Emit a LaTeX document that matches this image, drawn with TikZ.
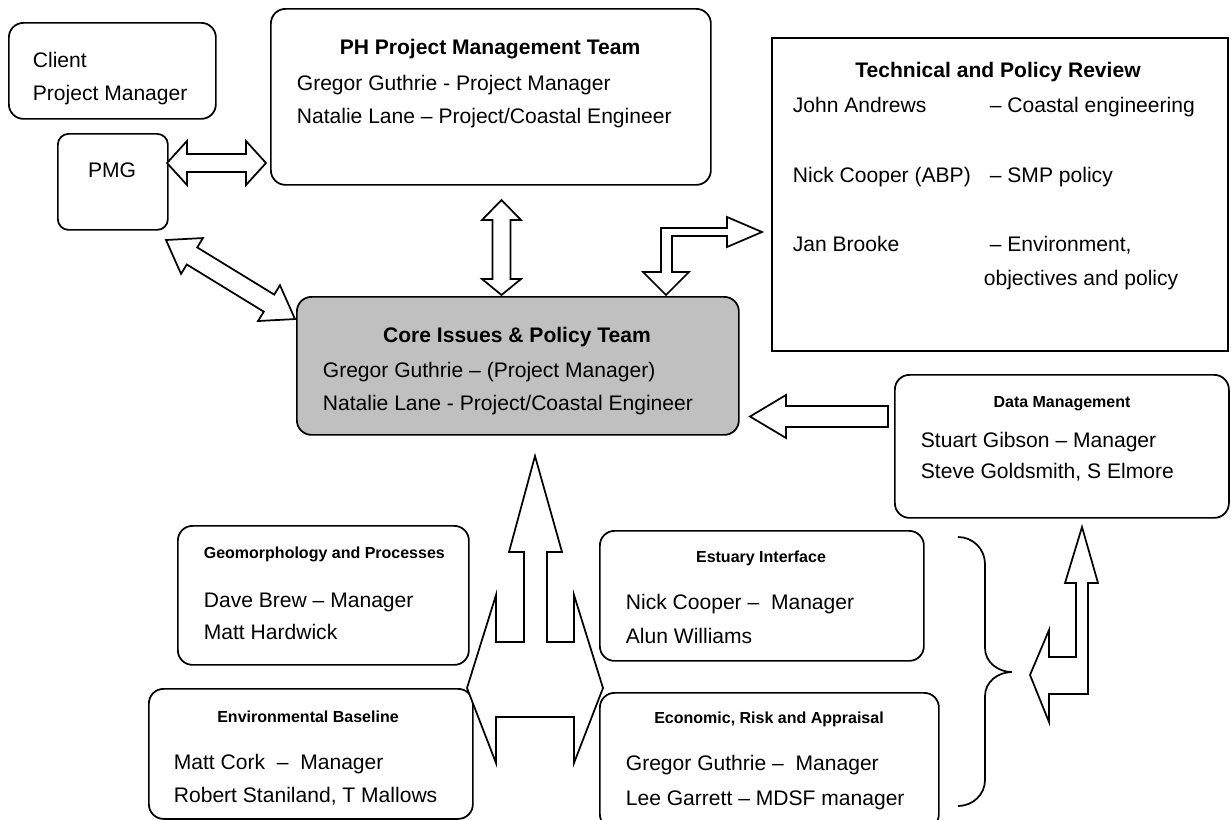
\documentclass[tikz,border=0pt]{standalone}
\usepackage{fontspec}
\setmainfont{Liberation Sans}
\newcommand\mybox[6]{\node[boxshape,#6,minimum width={(#3-#1)*0.75pt},minimum height={(#4-#2)*0.75pt}] (#5) at (#1,#2) {};}
\begin{document}
\begin{tikzpicture}[x=0.75pt,y=-0.75pt,line width=1.3pt,
  boxshape/.style={draw,inner sep=0pt,anchor=north west},
  rbox/.style={rounded corners=11pt},
  sbox/.style={rounded corners=8pt},
  txt/.style={anchor=base west,inner sep=0pt,font=\fontsize{15.8}{19}\selectfont},
  ttl/.style={anchor=base,inner sep=0pt,font=\fontsize{15.8}{19}\selectfont\bfseries},
  sttl/.style={anchor=base,inner sep=0pt,font=\fontsize{12}{14}\selectfont\bfseries},
  blockarrow/.style={draw,fill=white,line join=miter}]
\useasboundingbox (0,0) rectangle (1231,819);

% boxes
\mybox{8}{22}{215}{118}{client}{rbox}
\mybox{57}{133}{167}{229}{pmg}{sbox}
\mybox{270}{8}{710}{184}{ph}{rbox}
\mybox{771}{37}{1227}{350}{tech}{}
\mybox{296}{296}{738}{434}{core}{rbox,fill={rgb,255:red,192;green,192;blue,192}}
\mybox{894}{374}{1228}{517}{data}{rbox}
\mybox{177}{525}{468}{664}{geo}{rbox}
\mybox{599}{530}{923}{660}{est}{rbox}
\mybox{148}{688}{472}{818}{env}{rbox}
\begin{scope}
\clip (0,0) rectangle (1231,819);
\mybox{599}{692}{938}{828}{eco}{rbox}
\end{scope}

% texts
\node[txt] (clientA) at (32,67) {Client};
\node[txt] (clientB) at (32,100) {Project Manager};
\node[txt,anchor=base] (pmgT) at (112,177) {PMG};

\node[ttl] (phT) at (490,54) {PH Project Management Team};
\node[txt] (phA) at (296,90) {Gregor Guthrie - Project Manager};
\node[txt] (phB) at (296,123) {Natalie Lane – Project/Coastal Engineer};

\node[ttl] (techT) at (998,77) {Technical and Policy Review};
\node[txt] (techA) at (792,112) {John Andrews};
\node[txt] (techA2) at (989,112) {– Coastal engineering};
\node[txt] (techB) at (792,182) {Nick Cooper (ABP)};
\node[txt] (techB2) at (989,182) {– SMP policy};
\node[txt] (techC) at (792,251) {Jan Brooke};
\node[txt] (techC2) at (989,251) {– Environment,};
\node[txt] (techC3) at (983,285) {objectives and policy};

\node[ttl] (coreT) at (517,342) {Core Issues \& Policy Team};
\node[txt] (coreA) at (322,377) {Gregor Guthrie – (Project Manager)};
\node[txt] (coreB) at (322,410) {Natalie Lane - Project/Coastal Engineer};

\node[sttl] (dataT) at (1062,407) {Data Management};
\node[txt] (dataA) at (920,447) {Stuart Gibson – Manager};
\node[txt] (dataB) at (920,478) {Steve Goldsmith, S Elmore};

\node[sttl,anchor=base west] (geoT) at (203,558) {Geomorphology and Processes};
\node[txt] (geoA) at (203,607) {Dave Brew – Manager};
\node[txt] (geoB) at (203,639) {Matt Hardwick};

\node[sttl] (estT) at (761,562) {Estuary Interface};
\node[txt] (estA) at (625,609) {Nick Cooper –\ \ Manager};
\node[txt] (estB) at (625,643) {Alun Williams};

\node[sttl] (envT) at (308,722) {Environmental Baseline};
\node[txt] (envA) at (173,769) {Matt Cork\ \ –\ \ Manager};
\node[txt] (envB) at (173,802) {Robert Staniland, T Mallows};

\node[sttl] (ecoT) at (769,723) {Economic, Risk and Appraisal};
\node[txt] (ecoA) at (625,770) {Gregor Guthrie –\ \ Manager};
\node[txt] (ecoB) at (625,805) {Lee Garrett – MDSF manager};

% PMG <-> PH
\draw[blockarrow] (167,163) -- (187,141) -- (187,154) -- (246,154) -- (246,141) -- (266,163)
  -- (246,185) -- (246,172) -- (187,172) -- (187,185) -- cycle;

% PH <-> Core
\draw[blockarrow] (501.5,200) -- (521,220) -- (510.5,220) -- (510.5,279) -- (521,279) -- (501.5,295)
  -- (482,279) -- (492.5,279) -- (492.5,220) -- (482,220) -- cycle;

% Core <-> Technical (bent)
\draw[blockarrow] (666,295) -- (689,272) -- (672,272) -- (672,236) -- (727,236) -- (727,247)
  -- (762,232) -- (727,217) -- (727,228) -- (661,228) -- (661,272) -- (643,272) -- cycle;

% PMG <-> Core (diagonal)
\begin{scope}[shift={(166,240)},rotate=-31.5]
\draw[blockarrow] (0,0) -- (30.5,-21) -- (30.5,-10) -- (120.8,-10) -- (120.8,-21) -- (151.3,0)
  -- (120.8,21) -- (120.8,10) -- (30.5,10) -- (30.5,21) -- cycle;
\end{scope}

% Data -> Core
\draw[blockarrow] (750,416.5) -- (786,395) -- (786,406) -- (888,406) -- (888,427) -- (786,427)
  -- (786,438) -- cycle;

% central composite arrow
\draw[blockarrow] (535,456) -- (562,552) -- (547,552) -- (547,642) -- (574,642) -- (574,595)
  -- (603,688) -- (574,763) -- (574,717) -- (496,717) -- (496,763) -- (467,688) -- (496,595)
  -- (496,642) -- (524,642) -- (524,552) -- (509,552) -- cycle;

% right bent arrow
\draw[blockarrow] (1082,527) -- (1098,583) -- (1088,583) -- (1088,694) -- (1049,694) -- (1049,722)
  -- (1030,675) -- (1049,630) -- (1049,657) -- (1076,657) -- (1076,583) -- (1065,583) -- cycle;

% brace
\draw (958,537) to[out=0,in=90] (985,564) -- (985,648) to[out=-90,in=180] (1012,672)
  to[out=180,in=90] (985,696) -- (985,780) to[out=-90,in=0] (958,806);
\end{tikzpicture}
\end{document}
